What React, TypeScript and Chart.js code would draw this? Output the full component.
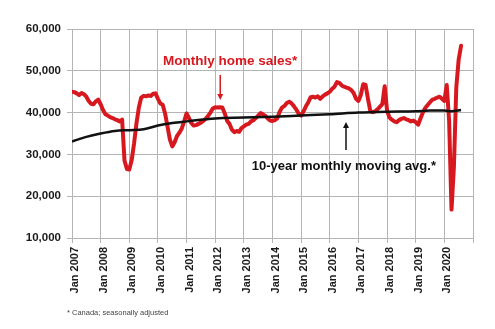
import React, { useEffect, useRef } from 'react';
import { Chart, registerables } from 'chart.js';

Chart.register(...registerables);

// Monthly home sales (Canada, SA), Jan 2007 .. Aug 2020, month index 0 = Jan 2007
const salesValues: number[] = [
  // 2007
  45000, 44900, 44600, 44200, 44700, 44400, 43800, 42800, 42100, 42000, 42700, 43100,
  // 2008
  42000, 40600, 39600, 39300, 38900, 38700, 38400, 38200, 37900, 38300, 28500, 26500,
  // 2009
  26400, 28600, 32600, 37400, 41200, 43600, 44000, 43900, 44100, 44000, 44500, 44600,
  // 2010
  43300, 42200, 41900, 39800, 36700, 33600, 31900, 32900, 34400, 35200, 36200, 37900,
  // 2011
  39800, 38700, 37500, 36900, 37000, 37300, 37600, 38000, 38500, 39200, 40000, 41000,
  // 2012
  41300, 41200, 41300, 41200, 39800, 38000, 37300, 35900, 35300, 35600, 35400, 36300,
  // 2013
  36700, 37100, 37300, 37900, 38200, 38700, 39300, 39900, 39600, 39200, 38600, 38100,
  // 2014
  38000, 38200, 38600, 40200, 41200, 41600, 42300, 42600, 42200, 41500, 40700, 39700,
  // 2015
  39300, 40300, 41500, 42500, 43700, 43800, 43600, 43900, 43300, 43900, 44300, 44600,
  // 2016
  45000, 45700, 46200, 47300, 47100, 46500, 46200, 46000, 45800, 45400, 44700, 43300,
  // 2017
  42800, 44200, 46800, 46600, 43300, 40300, 40100, 40300, 40800, 41400, 42000, 46300,
  // 2018
  40500, 38800, 38300, 37900, 37700, 38200, 38500, 38700, 38400, 38200, 37900, 38100,
  // 2019
  37700, 37100, 38600, 40000, 41100, 41800, 42500, 43100, 43300, 43600, 43800, 43300,
  // 2020
  42800, 46600, 38000, 16800, 27000, 46000, 52700, 56000,
];

// 10-year monthly moving average, read at sample months
const avgMonths: number[] = [0, 6, 12, 18, 24, 30, 36, 42, 48, 60, 72, 84, 96, 108, 120, 132, 144, 150, 156, 159, 163];
const avgValues: number[] = [33100, 34200, 35000, 35600, 35800, 36000, 36900, 37500, 37900, 38600, 38800, 39000, 39300, 39600, 40000, 40200, 40300, 40500, 40500, 40300, 40600];

const xTickMonths: number[] = [0, 12, 24, 36, 48, 60, 72, 84, 96, 108, 120, 132, 144, 156];
const xTickLabels: string[] = ['Jan 2007', 'Jan 2008', 'Jan 2009', 'Jan 2010', 'Jan 2011', 'Jan 2012', 'Jan 2013', 'Jan 2014', 'Jan 2015', 'Jan 2016', 'Jan 2017', 'Jan 2018', 'Jan 2019', 'Jan 2020'];
const yTickValues: number[] = [10000, 20000, 30000, 40000, 50000, 60000];
const yTickLabels: string[] = ['10,000', '20,000', '30,000', '40,000', '50,000', '60,000'];

const salesLabel = 'Monthly home sales*';
const avgLabel = '10-year monthly moving avg.*';
const footnote = '* Canada; seasonally adjusted';

const RED = '#d7191f';
const BLACK = '#111111';
const GRID = '#b4b4b4';
const FONT = '"Liberation Sans", Arial, sans-serif';

function drawArrow(ctx: CanvasRenderingContext2D, x: number, yFrom: number, yTo: number, color: string) {
  const dir = yTo > yFrom ? 1 : -1;
  const head = 6;
  ctx.strokeStyle = color;
  ctx.fillStyle = color;
  ctx.lineWidth = 1.5;
  ctx.beginPath();
  ctx.moveTo(x, yFrom);
  ctx.lineTo(x, yTo - dir * head);
  ctx.stroke();
  ctx.beginPath();
  ctx.moveTo(x, yTo);
  ctx.lineTo(x - 3, yTo - dir * head);
  ctx.lineTo(x + 3, yTo - dir * head);
  ctx.closePath();
  ctx.fill();
}

const annotationPlugin = {
  id: 'annotations',
  beforeDatasetsDraw(chart: any) {
    const { ctx, chartArea } = chart;
    ctx.save();
    ctx.strokeStyle = GRID;
    ctx.lineWidth = 1;
    const xr = Math.round(chartArea.right) + 0.5;
    ctx.beginPath();
    ctx.moveTo(xr, chartArea.top);
    ctx.lineTo(xr, chartArea.bottom + 5);
    ctx.stroke();
    ctx.restore();
  },
  afterDatasetsDraw(chart: any) {
    const { ctx } = chart;
    const xs = chart.scales.x;
    const ys = chart.scales.y;
    ctx.save();
    ctx.textBaseline = 'middle';
    ctx.textAlign = 'left';
    // red label + arrow
    ctx.font = `bold 13.5px ${FONT}`;
    ctx.fillStyle = RED;
    ctx.fillText(salesLabel, xs.getPixelForValue(38.1), ys.getPixelForValue(52180));
    drawArrow(ctx, xs.getPixelForValue(62.1), ys.getPixelForValue(49000), ys.getPixelForValue(43000), RED);
    // black label + arrow
    ctx.font = `bold 13px ${FONT}`;
    ctx.fillStyle = BLACK;
    ctx.fillText(avgLabel, xs.getPixelForValue(75.3), ys.getPixelForValue(27060));
    drawArrow(ctx, xs.getPixelForValue(114.8), ys.getPixelForValue(31050), ys.getPixelForValue(37750), BLACK);
    // footnote
    ctx.font = `7.5px ${FONT}`;
    ctx.fillStyle = '#444444';
    ctx.fillText(footnote, 67, 313);
    ctx.restore();
  },
};

export default function App() {
  const canvasRef = useRef<HTMLCanvasElement | null>(null);

  useEffect(() => {
    if (!canvasRef.current) return;
    const chart = new Chart(canvasRef.current, {
      type: 'line',
      data: {
        datasets: [
          {
            label: avgLabel,
            data: avgMonths.map((m, i) => ({ x: m, y: avgValues[i] })),
            borderColor: BLACK,
            borderWidth: 2.5,
            pointRadius: 0,
            cubicInterpolationMode: 'monotone',
            order: 0,
          },
          {
            label: salesLabel,
            data: salesValues.map((v, i) => ({ x: i, y: v })),
            borderColor: RED,
            borderWidth: 4,
            pointRadius: 0,
            tension: 0,
            borderJoinStyle: 'round',
            borderCapStyle: 'round',
            order: 1,
          },
        ],
      },
      options: {
        responsive: false,
        animation: false,
        layout: { padding: { top: 29, right: 22, left: 0, bottom: 0 } },
        plugins: { legend: { display: false }, tooltip: { enabled: false } },
        scales: {
          x: {
            type: 'linear',
            min: 0,
            max: 168,
            afterBuildTicks: (scale: any) => {
              scale.ticks = xTickMonths.map((v) => ({ value: v }));
            },
            afterFit: (scale: any) => {
              scale.height = 91;
            },
            grid: { color: GRID, lineWidth: 1, tickLength: 5, drawTicks: true },
            border: { color: GRID },
            ticks: {
              autoSkip: false,
              minRotation: 90,
              maxRotation: 90,
              padding: 4,
              labelOffset: 3,
              color: '#1a1a1a',
              font: { family: FONT, size: 11, weight: 'bold' },
              callback: (v: any) => {
                const idx = xTickMonths.indexOf(Number(v));
                return idx >= 0 ? xTickLabels[idx] : '';
              },
            },
          },
          y: {
            type: 'linear',
            min: 10000,
            max: 60000,
            afterBuildTicks: (scale: any) => {
              scale.ticks = yTickValues.map((v) => ({ value: v }));
            },
            afterFit: (scale: any) => {
              scale.width = 72;
            },
            grid: { color: GRID, lineWidth: 1, tickLength: 5 },
            border: { color: GRID },
            ticks: {
              padding: 6,
              color: '#1a1a1a',
              font: { family: FONT, size: 11.5, weight: 'bold' },
              callback: (v: any) => {
                const idx = yTickValues.indexOf(Number(v));
                return idx >= 0 ? yTickLabels[idx] : '';
              },
            },
          },
        },
      },
      plugins: [annotationPlugin],
    } as any);
    return () => chart.destroy();
  }, []);

  return (
    <div style={{ position: 'absolute', left: 0, top: 0, width: 495, height: 329, background: '#ffffff' }}>
      <canvas ref={canvasRef} width={495} height={329} style={{ width: 495, height: 329, display: 'block' }} />
    </div>
  );
}
